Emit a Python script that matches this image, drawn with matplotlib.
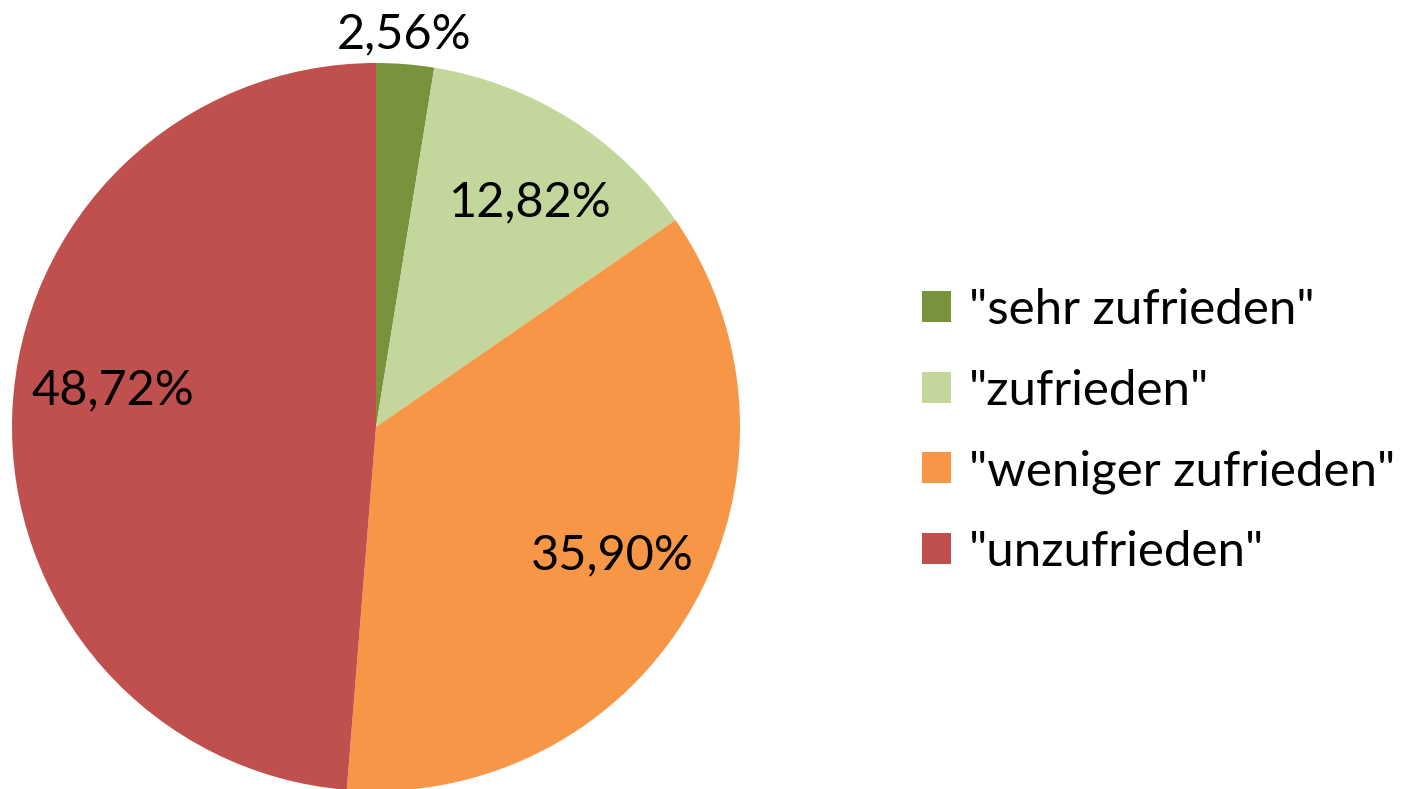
import matplotlib.pyplot as plt
import numpy as np

# Data
labels = ['"sehr zufrieden"', '"zufrieden"', '"weniger zufrieden"', '"unzufrieden"']
values = [2.56, 12.82, 35.90, 48.72]
pct_labels = ['2,56%', '12,82%', '35,90%', '48,72%']
colors = ['#77933C', '#C3D69B', '#F79646', '#C0504D']

plt.rcParams['font.family'] = ['Lato', 'DejaVu Sans']

fig = plt.figure(figsize=(14.13, 7.89), dpi=100)
ax = fig.add_axes([12 / 1413, -2 / 789, 728 / 1413, 728 / 789])

wedges, _ = ax.pie(values, colors=colors, startangle=90, counterclock=False,
                   radius=1.0, wedgeprops=dict(linewidth=0))

# percentage labels (Excel "best fit": first slice outside, others inside)
label_dist = [1.08, 0.75, 0.74, 0.73]
angle_shift = [0.5, -2.2, 1.5, -5.7]
for w, txt, d, s in zip(wedges, pct_labels, label_dist, angle_shift):
    ang = np.deg2rad((w.theta1 + w.theta2) / 2 + s)
    ax.text(d * np.cos(ang), d * np.sin(ang), txt, ha='center', va='center',
            fontsize=35, color='black')

ax.set_xlim(-1, 1)
ax.set_ylim(-1, 1)
ax.set_aspect('equal')
ax.axis('off')

fig.legend(wedges, labels, loc='center left', bbox_to_anchor=(902 / 1413, 0.4535),
           frameon=False, fontsize=35.5, handlelength=0.6, handleheight=0.6,
           handletextpad=0.35, labelspacing=0.74, borderaxespad=0)

plt.savefig('out.png', dpi=100)
